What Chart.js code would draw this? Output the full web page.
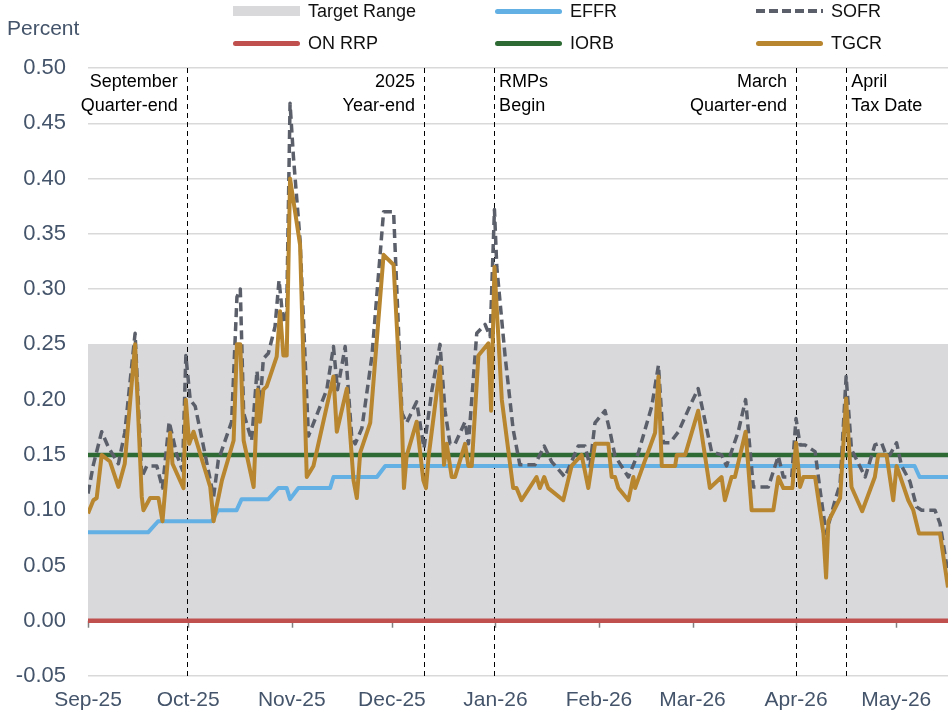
<!DOCTYPE html>
<html>
<head>
<meta charset="utf-8">
<title>Money market rates</title>
<script src="https://cdn.jsdelivr.net/npm/chart.js@4.4.0/dist/chart.umd.min.js"></script>
<style>
  body { margin: 0; background: #fff; font-family: "Liberation Sans", Arial, sans-serif; }
  #wrap { position: relative; width: 948px; height: 717px; }
  #percent { position: absolute; left: 7px; top: 15px; font-size: 21px; line-height: 26px; color: #44546a; }
  .leg { position: absolute; height: 24px; display: flex; align-items: center; font-size: 18px; color: #111; white-space: nowrap; }
  .leg .sw { display: inline-block; width: 67px; margin-right: 8px; }
</style>
</head>
<body>
<div id="wrap">
  <canvas id="rates" width="948" height="717"></canvas>
  <div id="percent">Percent</div>
  <div id="legend"></div>
</div>
<script>
// x axis = days since 1 Sep 2025
var monthDays = [0, 30, 61, 91, 122, 153, 181, 212, 242];
var monthLabels = ['Sep-25', 'Oct-25', 'Nov-25', 'Dec-25', 'Jan-26', 'Feb-26', 'Mar-26', 'Apr-26', 'May-26'];
var lastDay = 257.5;

var targetLow = 0;
var targetHigh = 0.25;
var onRrpRate = 0;
var iorbRate = 0.15;

var effrDays = [0, 18, 21, 37, 39, 44.5, 46, 54, 57, 59.5, 60.5, 63, 72.5, 73.5, 86.5, 89, 247.5, 249, 257.5];
var effrValues = [0.08, 0.08, 0.09, 0.09, 0.10, 0.10, 0.11, 0.11, 0.12, 0.12, 0.11, 0.12, 0.12, 0.13, 0.13, 0.14, 0.14, 0.13, 0.13];

var sofrDays = [0, 1.6, 4.1, 6.1, 9.1, 11, 14.1, 16.1, 17.6, 20.6,
  22.3, 24.3, 26.6, 28.3, 29.3, 30.6, 32.1, 35.1, 37.6, 39,
  43, 44.6, 45.6, 46.6, 49, 50.6, 51.5, 52.5, 54, 56,
  57.2, 58.5, 59.5, 60.5, 61.5, 63.5, 66, 69, 71.5, 73.5,
  74.7, 77, 79, 80, 82, 85, 88.5, 91.5, 94, 95.4,
  98.4, 100.6, 103, 105.4, 106.9, 108.4, 109.9, 112.9, 113.9, 116.4,
  118.9, 120.4, 121.7, 122.4, 124.9, 127.3, 129.3, 133.8, 136.6, 138.8,
  142.8, 146.8, 148.8, 150.3, 151.8, 154.8, 156.3, 157.8, 161.8, 164.8,
  168.8, 170.8, 172.3, 174.3, 176.8, 180.2, 182.7, 186.7, 189.7, 191.2,
  194.7, 196.9, 199.2, 203.7, 206.7, 208.2, 210.7, 212, 213.2, 214.7,
  217.7, 219.2, 221, 223.7, 225.2, 227, 228.6, 232.7, 235.6, 237.6,
  239.1, 240.1, 242.1, 243.6, 246.1, 248.1, 249.6, 253.6, 255.1, 257.5];
var sofrValues = [0.115, 0.141, 0.171, 0.157, 0.142, 0.17, 0.26, 0.13, 0.14, 0.14,
  0.12, 0.18, 0.15, 0.136, 0.24, 0.20, 0.194, 0.15, 0.112, 0.145,
  0.18, 0.293, 0.30, 0.188, 0.163, 0.226, 0.194, 0.237, 0.242, 0.266,
  0.308, 0.269, 0.28, 0.468, 0.42, 0.344, 0.167, 0.19, 0.209, 0.248,
  0.209, 0.248, 0.165, 0.16, 0.174, 0.239, 0.37, 0.37, 0.188, 0.179,
  0.198, 0.156, 0.209, 0.25, 0.19, 0.16, 0.16, 0.18, 0.16, 0.26,
  0.268, 0.257, 0.372, 0.32, 0.239, 0.173, 0.141, 0.141, 0.158, 0.144,
  0.13, 0.158, 0.158, 0.14, 0.179, 0.19, 0.171, 0.149, 0.13, 0.152,
  0.194, 0.231, 0.161, 0.161, 0.171, 0.194, 0.21, 0.153, 0.15, 0.14,
  0.171, 0.20, 0.121, 0.121, 0.149, 0.13, 0.13, 0.183, 0.159, 0.159,
  0.153, 0.118, 0.079, 0.109, 0.124, 0.221, 0.155, 0.13, 0.159, 0.161,
  0.149, 0.15, 0.161, 0.14, 0.126, 0.103, 0.10, 0.10, 0.088, 0.043];

var tgcrDays = [0, 1.6, 2.6, 4.1, 6.6, 9.1, 11, 14.1, 16.1, 16.6,
  18.6, 21.1, 22.3, 24.6, 25.3, 28.6, 29.3, 30.3, 31.6, 36.6,
  37.6, 40.1, 43.6, 44.6, 45.6, 46.6, 49.6, 50.8, 51.5, 52.5,
  53.5, 56.5, 57.5, 58.5, 59.5, 60.5, 63.5, 65.5, 67.5, 73.5,
  74.5, 77.5, 79.5, 80.5, 81.5, 84.5, 88.5, 91.5, 94, 94.6,
  95.4, 98.4, 100.4, 101.2, 102, 105.4, 106.6, 107.4, 108.9, 109.9,
  112.9, 113.9, 114.9, 116.9, 119.9, 120.7, 121.7, 123.9, 127.3, 128.3,
  129.8, 134.3, 135.3, 136.6, 137.8, 142.3, 144.8, 147.8, 149.8, 151.8,
  155.8, 156.8, 157.8, 158.8, 161.8, 163.3, 163.8, 166.3, 169.8, 170.8,
  171.8, 175.8, 176.3, 178.8, 182.7, 186.2, 189.7, 190.7, 192.7, 193.7,
  196.9, 198.7, 205.2, 206.7, 208.2, 210.9, 212, 213.2, 214.2, 217.7,
  220.2, 221, 221.7, 225.2, 227, 228.6, 231.8, 235.6, 236.6, 239.1,
  241.1, 242.1, 245.6, 247.1, 248.8, 255.1, 257.5];
var tgcrValues = [0.097, 0.109, 0.111, 0.15, 0.144, 0.121, 0.142, 0.25, 0.112, 0.10,
  0.111, 0.111, 0.09, 0.17, 0.142, 0.12, 0.20, 0.16, 0.171, 0.121,
  0.09, 0.127, 0.163, 0.25, 0.25, 0.163, 0.121, 0.209, 0.18, 0.209,
  0.212, 0.239, 0.28, 0.24, 0.24, 0.40, 0.34, 0.13, 0.14, 0.221,
  0.171, 0.21, 0.127, 0.111, 0.152, 0.179, 0.331, 0.322, 0.179, 0.12,
  0.149, 0.18, 0.127, 0.12, 0.149, 0.23, 0.141, 0.16, 0.13, 0.13,
  0.16, 0.14, 0.14, 0.24, 0.251, 0.19, 0.32, 0.20, 0.12, 0.12,
  0.109, 0.13, 0.12, 0.13, 0.12, 0.109, 0.14, 0.15, 0.12, 0.16,
  0.16, 0.13, 0.13, 0.12, 0.109, 0.13, 0.12, 0.141, 0.17, 0.221,
  0.14, 0.14, 0.15, 0.15, 0.19, 0.12, 0.13, 0.109, 0.13, 0.13,
  0.171, 0.10, 0.10, 0.13, 0.12, 0.12, 0.161, 0.121, 0.13, 0.13,
  0.079, 0.039, 0.09, 0.111, 0.201, 0.121, 0.099, 0.13, 0.15, 0.15,
  0.109, 0.14, 0.109, 0.10, 0.079, 0.079, 0.03];

// dated events, text goes on the 'left' or 'right' of the line
var eventDays = [29.6, 100.6, 121.6, 212, 227];
var eventText = [['September', 'Quarter-end'], ['2025', 'Year-end'], ['RMPs', 'Begin'], ['March', 'Quarter-end'], ['April', 'Tax Date']];
var eventSide = ['left', 'left', 'right', 'left', 'right'];

function series(days, values) {
    return days.map(function(d, i) { return { x: d, y: values[i] } })
}
function flat(v) {
    return [{ x: 0, y: v }, { x: lastDay, y: v }]
}

var font = '"Liberation Sans", Arial, sans-serif';
var slate = '#44546a';

// draws the dashed event lines, their labels and the month ticks on the zero line,
// right after the grey target range so the rate lines sit on top
var eventLines = {
    id: 'eventLines',
    afterDatasetDraw: function(chart, args) {
        if (chart.data.datasets[args.index].label !== 'Target Range') return
        var ctx = chart.ctx, xs = chart.scales.x, ys = chart.scales.y, area = chart.chartArea
        ctx.save()
        var y0 = ys.getPixelForValue(0)
        ctx.strokeStyle = '#808080'
        ctx.lineWidth = 1.5
        monthDays.forEach(function(d) {
            var px = Math.round(xs.getPixelForValue(d)) + 0.5
            ctx.beginPath()
            ctx.moveTo(px, y0)
            ctx.lineTo(px, y0 + 7)
            ctx.stroke()
        })
        ctx.strokeStyle = '#000'
        ctx.lineWidth = 1
        ctx.setLineDash([5, 4])
        eventDays.forEach(function(d) {
            var px = Math.round(xs.getPixelForValue(d)) + 0.5
            ctx.beginPath()
            ctx.moveTo(px, area.top)
            ctx.lineTo(px, area.bottom)
            ctx.stroke()
        })
        ctx.setLineDash([])
        ctx.fillStyle = '#000'
        ctx.font = '18px ' + font
        ctx.textBaseline = 'middle'
        eventDays.forEach(function(d, i) {
            var px = xs.getPixelForValue(d)
            var left = eventSide[i] === 'left'
            ctx.textAlign = left ? 'right' : 'left'
            eventText[i].forEach(function(t, j) {
                ctx.fillText(t, left ? px - 9 : px + 5, area.top + 14 + j * 24)
            })
        })
        ctx.restore()
    }
}

var lineBase = { pointRadius: 0, tension: 0, fill: false, borderJoinStyle: 'round', borderCapStyle: 'butt' }

var datasets = [
    Object.assign({ label: 'TGCR', data: series(tgcrDays, tgcrValues), borderColor: '#b8862e', borderWidth: 4, order: 0 }, lineBase),
    Object.assign({ label: 'SOFR', data: series(sofrDays, sofrValues), borderColor: '#5a5f69', borderWidth: 3.5, borderDash: [9, 5], order: 1 }, lineBase),
    Object.assign({ label: 'IORB', data: flat(iorbRate), borderColor: '#2e6b34', borderWidth: 4.5, order: 2 }, lineBase),
    Object.assign({ label: 'EFFR', data: series(effrDays, effrValues), borderColor: '#62b0e4', borderWidth: 4, order: 3 }, lineBase),
    Object.assign({ label: 'ON RRP', data: flat(onRrpRate), borderColor: '#c0504d', borderWidth: 4.5, order: 4 }, lineBase),
    { label: 'Target Range', data: flat(targetHigh), fill: { value: targetLow }, backgroundColor: '#d9d9dc',
      borderColor: 'rgba(0,0,0,0)', borderWidth: 0, pointRadius: 0, order: 5 }
]

var ratesChart = new Chart(document.getElementById('rates').getContext('2d'), {
    type: 'line',
    data: { datasets: datasets },
    options: {
        responsive: false,
        animation: false,
        events: [],
        layout: { padding: { top: 68, left: 0, right: 0, bottom: 0 } },
        plugins: {
            legend: { display: false },
            title: { display: false },
            tooltip: { enabled: false }
        },
        scales: {
            x: {
                type: 'linear',
                min: 0,
                max: lastDay,
                afterBuildTicks: function(scale) {
                    scale.ticks = monthDays.map(function(d) { return { value: d } })
                },
                afterFit: function(scale) { scale.height = 41 },
                grid: { display: false, drawTicks: false },
                border: { display: false },
                ticks: {
                    autoSkip: false,
                    maxRotation: 0,
                    padding: 12,
                    color: slate,
                    font: { family: font, size: 21 },
                    callback: function(value) {
                        var i = monthDays.indexOf(value)
                        return i < 0 ? '' : monthLabels[i]
                    }
                }
            },
            y: {
                min: -0.05,
                max: 0.5,
                afterFit: function(scale) { scale.width = 88 },
                grid: { color: '#d9d9d9', lineWidth: 1.5, drawTicks: false },
                border: { display: false },
                ticks: {
                    stepSize: 0.05,
                    padding: 22,
                    color: slate,
                    font: { family: font, size: 22 },
                    callback: function(value) { return Number(value).toFixed(2) }
                }
            }
        }
    },
    plugins: [eventLines]
});

// legend laid out in a fixed 3 x 2 grid like the original
var legendOrder = ['Target Range', 'EFFR', 'SOFR', 'ON RRP', 'IORB', 'TGCR'];
var legendCols = [233, 495, 756];
var legendRows = [11, 43];
var legendBox = document.getElementById('legend');
legendOrder.forEach(function(name, i) {
    var ds = datasets.filter(function(d) { return d.label === name })[0]
    var item = document.createElement('div')
    item.className = 'leg'
    item.style.left = legendCols[i % 3] + 'px'
    item.style.top = (legendRows[Math.floor(i / 3)] - 12) + 'px'
    var sw = document.createElement('span')
    sw.className = 'sw'
    if (name === 'Target Range') {
        sw.style.height = '10px'
        sw.style.background = ds.backgroundColor
    } else if (ds.borderDash) {
        sw.style.height = '4px'
        sw.style.background = 'repeating-linear-gradient(to right, ' + ds.borderColor + ' 0 9px, transparent 9px 13px)'
    } else {
        sw.style.height = '5px'
        sw.style.borderRadius = '3px'
        sw.style.background = ds.borderColor
    }
    item.appendChild(sw)
    item.appendChild(document.createTextNode(name))
    legendBox.appendChild(item)
})
</script>
</body>
</html>
